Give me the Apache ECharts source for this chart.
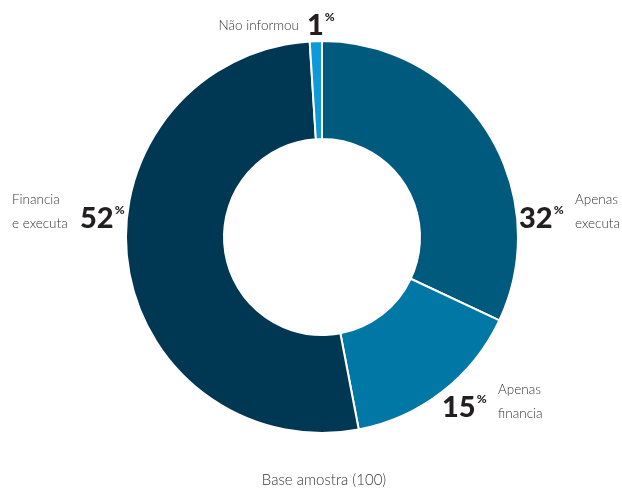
<!DOCTYPE html>
<html>
<head>
<meta charset="utf-8">
<script src="https://cdn.jsdelivr.net/npm/echarts@6/dist/echarts.min.js"></script>
<style>
  html, body { margin: 0; padding: 0; background: #ffffff; }
  #chart { width: 622px; height: 489px; }
</style>
</head>
<body>
<div id="chart"></div>
<script>
// Respondents by role (percent of sample), clockwise from the top
const categories = ['Apenas\nexecuta', 'Apenas\nfinancia', 'Financia\ne executa', 'Não informou'];
const shares = [32, 15, 52, 1];
const sliceColors = ['#005a7d', '#0077a4', '#003853', '#0d9ad6'];
const footnote = 'Base amostra (100)';

// Where each value label and name sits around the ring
const valueSpots = [
  { x: 519, y: 219 },
  { x: 442, y: 408 },
  { x: 80, y: 219 },
  { x: 307, y: 26 }
];
const nameSpots = [
  { x: 575, y: 212, align: 'left' },
  { x: 498, y: 402, align: 'left' },
  { x: 12, y: 212, align: 'left' },
  { x: 299, y: 26, align: 'right' }
];

const chart = echarts.init(document.getElementById('chart'), null, { renderer: 'canvas' });

const nameFont = 'Lato, "Open Sans", sans-serif';

const graphics = categories.map((name, i) => ({
  type: 'text',
  x: nameSpots[i].x,
  y: nameSpots[i].y,
  style: {
    text: name,
    fill: '#363636',
    font: '300 13.5px ' + nameFont,
    lineHeight: 24,
    align: nameSpots[i].align,
    verticalAlign: 'middle'
  }
}));
graphics.push({
  type: 'text',
  x: 324,
  y: 480,
  style: {
    text: footnote,
    fill: '#363636',
    font: '300 15px ' + nameFont,
    align: 'center',
    verticalAlign: 'middle'
  }
});

chart.setOption({
  animation: false,
  backgroundColor: '#ffffff',
  graphic: graphics,
  series: [{
    type: 'pie',
    center: [322, 237],
    radius: [98, 196],
    startAngle: 90,
    clockwise: true,
    silent: true,
    data: shares.map((v, i) => ({
      value: v,
      name: categories[i],
      itemStyle: { color: sliceColors[i] }
    })),
    itemStyle: { borderColor: '#ffffff', borderWidth: 2 },
    label: {
      show: true,
      position: 'outside',
      formatter: p => '{n|' + p.value + '}{p|%}',
      rich: {
        n: {
          fontFamily: 'Lato, sans-serif',
          fontWeight: 900,
          fontSize: 29,
          color: '#231f20',
          lineHeight: 30
        },
        p: {
          fontFamily: 'Lato, sans-serif',
          fontWeight: 900,
          fontSize: 12,
          color: '#231f20',
          verticalAlign: 'top',
          lineHeight: 26,
          padding: [0, 0, 0, 1]
        }
      }
    },
    labelLine: { show: false },
    labelLayout: params => ({
      x: valueSpots[params.dataIndex].x,
      y: valueSpots[params.dataIndex].y,
      align: 'left',
      verticalAlign: 'middle',
      moveOverlap: null,
      hideOverlap: false
    })
  }]
});
</script>
</body>
</html>
